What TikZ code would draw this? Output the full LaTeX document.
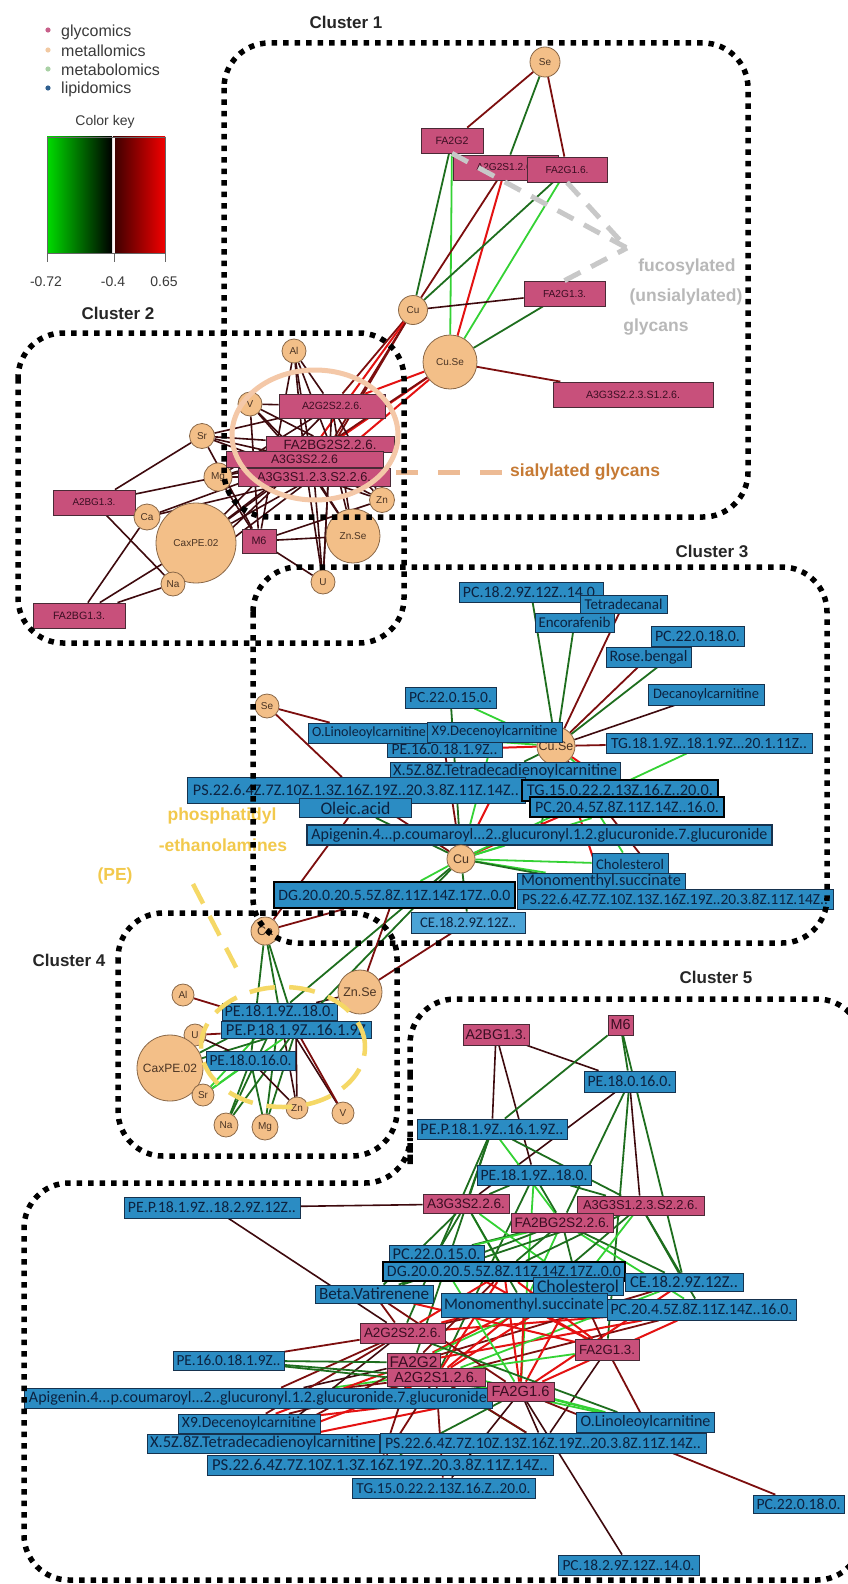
\documentclass[tikz,border=0pt]{standalone}
\usepackage{fontspec}
\usepackage{graphicx}
\setmainfont{Liberation Sans}
\newfontfamily\califont{Carlito}
\usetikzlibrary{shapes.geometric}

\definecolor{glycofill}{HTML}{C8507B}
\definecolor{glycodraw}{HTML}{4A2A36}
\definecolor{glycotext}{HTML}{3A0E22}
\definecolor{lipidfill}{HTML}{2B8CC3}
\definecolor{lipidlight}{HTML}{4BA3D6}
\definecolor{lipiddraw}{HTML}{16324E}
\definecolor{lipidtext}{HTML}{0C2240}
\definecolor{metalfill}{HTML}{F3BF88}
\definecolor{metaldraw}{HTML}{8A6848}
\definecolor{metaltext}{HTML}{4A3424}
\definecolor{edgered}{HTML}{E41212}
\definecolor{edgedkred}{HTML}{7C0E0E}
\definecolor{edgeblk}{HTML}{3E0A0E}
\definecolor{edgedkgreen}{HTML}{1E6E1E}
\definecolor{edgegreen}{HTML}{34D234}
\definecolor{fucogray}{HTML}{C8C8C8}
\definecolor{fucotextc}{HTML}{B8B8B8}
\definecolor{sialring}{HTML}{F4C8A8}
\definecolor{sialdash}{HTML}{EDBB95}
\definecolor{sialtextc}{HTML}{C67A34}
\definecolor{pegold}{HTML}{F2C94C}
\definecolor{pering}{HTML}{F5D866}
\definecolor{legglyco}{HTML}{C8608A}
\definecolor{legmetal}{HTML}{F2C9A2}
\definecolor{legmetab}{HTML}{A9D1A5}
\definecolor{leglipid}{HTML}{2F5F8F}
\definecolor{legtext}{HTML}{3A3A3A}
\definecolor{keygreen}{HTML}{00DC00}
\definecolor{keydkred}{HTML}{3A0000}
\definecolor{keyred}{HTML}{F20000}

\pgfdeclarelayer{bglayer}
\pgfdeclarelayer{edgelayer}
\pgfsetlayers{bglayer,edgelayer,main}

\newcommand{\fitto}[2]{\resizebox{#1pt}{!}{#2}}

\tikzset{
	glyco/.style = {draw = glycodraw, fill = glycofill, text = glycotext, line width = 0.8pt, inner sep = 0pt, font = \fontsize{10}{10}\selectfont},
	lipid/.style = {draw = lipiddraw, fill = lipidfill, text = lipidtext, line width = 0.8pt, inner sep = 0pt, font = \califont\fontsize{12}{12}\selectfont},
	lipidthick/.style = {lipid, draw = black, line width = 2.2pt},
	metal/.style = {circle, draw = metaldraw, fill = metalfill, line width = 0.8pt, inner sep = 0pt, text = metaltext, font = \fontsize{10}{10}\selectfont},
	metalbig/.style = {metal, font = \fontsize{12.5}{12.5}\selectfont},
	clusterline/.style = {line width = 5.5pt, dash pattern = on 5.5pt off 6pt, rounded corners = 45pt},
	clustertitle/.style = {font = \bfseries\fontsize{17}{17}\selectfont, text = black!85},
	legendtext/.style = {font = \fontsize{16}{16}\selectfont, text = legtext, anchor = west, inner sep = 0pt},
	keytext/.style = {font = \fontsize{14}{14}\selectfont, text = legtext, inner sep = 0pt},
	fucotext/.style = {font = \bfseries\fontsize{17.5}{17.5}\selectfont, text = fucotextc, inner sep = 0pt},
	petext/.style = {font = \bfseries\fontsize{17.5}{17.5}\selectfont, text = pegold, inner sep = 0pt},
	eR/.style = {line width = 2pt, color = edgered},
	eDR/.style = {line width = 1.8pt, color = edgedkred},
	eK/.style = {line width = 1.6pt, color = edgeblk},
	eDG/.style = {line width = 1.8pt, color = edgedkgreen},
	eG/.style = {line width = 1.8pt, color = edgegreen}
}

\begin{document}
\begin{tikzpicture}[x = 1pt, y = -1pt]
	\begin{pgfonlayer}{bglayer}
		\fill[white] (0,0) rectangle (848,1584);
	\end{pgfonlayer}
	\useasboundingbox (0,0) rectangle (848,1584);

	% legend and colour key
	\fill[legglyco] (48,30) circle[radius = 2.6pt];
	\fill[legmetal] (48,50) circle[radius = 2.6pt];
	\fill[legmetab] (48,69) circle[radius = 2.6pt];
	\fill[leglipid] (48,88) circle[radius = 2.6pt];
	\node[legendtext] (leggly) at (61,32) {glycomics};
	\node[legendtext] (legmet) at (61,51) {metallomics};
	\node[legendtext] (legmtb) at (61,70) {metabolomics};
	\node[legendtext] (leglip) at (61,89) {lipidomics};
	\node[keytext] (keytitle) at (105,122) {Color key};
	\shade[left color = keygreen, right color = black] (47,137) rectangle (112,253);
	\shade[left color = keydkred, right color = keyred] (113,137) rectangle (165,253);
	\draw[white!85!pink, line width = 1.8pt] (114,137) -- (114,253);
	\draw[black!60, line width = 0.6pt] (47,137) rectangle (165,253);
	\foreach \x in {47,114,165}
		\draw[black!60, line width = 0.8pt] (\x,253) -- (\x,262);
	\node[keytext] (keymin) at (46,282) {-0.72};
	\node[keytext] (keymid) at (113,282) {-0.4};
	\node[keytext] (keymax) at (164,282) {0.65};

	% cluster 1
	\node[metal, minimum size = 30pt] (se1) at (545,62) {Se};
	\node[glyco, minimum width = 62pt, minimum height = 25pt] (fa2g2a) at (452,140.5) {\fitto{33}{FA2G2}};
	\node[glyco, minimum width = 105pt, minimum height = 25pt] (a2g2s1a) at (505.5,167.5) {\fitto{58}{A2G2S1.2.6.}};
	\node[glyco, minimum width = 80pt, minimum height = 25pt] (fa2g16a) at (567,169.5) {\fitto{43}{FA2G1.6.}};
	\node[glyco, minimum width = 81pt, minimum height = 25pt] (fa2g13a) at (564.5,293.5) {\fitto{43}{FA2G1.3.}};
	\node[metal, minimum size = 29pt] (cu1) at (413,310) {Cu};
	\node[metal, minimum size = 54pt] (cuse1) at (450,362) {Cu.Se};
	\node[glyco, minimum width = 160pt, minimum height = 25pt] (a3g3s1a) at (633,394.5) {\fitto{94}{A3G3S2.2.3.S1.2.6.}};

	% cluster 2
	\node[glyco, minimum width = 82pt, minimum height = 25pt] (a2bg2) at (94,502.5) {\fitto{43}{A2BG1.3.}};
	\node[glyco, minimum width = 92pt, minimum height = 25pt] (fa2bg13) at (79,615.5) {\fitto{52}{FA2BG1.3.}};
	\node[metal, minimum size = 24pt] (al2) at (294,351) {Al};
	\node[metal, minimum size = 24pt] (v2) at (250,404) {V};
	\node[metal, minimum size = 25pt] (sr2) at (202,436) {Sr};
	\node[metal, minimum size = 28pt] (mg2) at (218,477) {Mg};
	\node[metal, minimum size = 80pt] (cax2) at (196,543) {CaxPE.02};
	\node[metal, minimum size = 26pt] (ca2) at (147,517) {Ca};
	\node[metal, minimum size = 24pt] (na2) at (173,584) {Na};
	\node[metal, minimum size = 54pt] (znse2) at (353,536) {Zn.Se};
	\node[metal, minimum size = 25pt] (zn2) at (382,500) {Zn};
	\node[metal, minimum size = 24pt] (u2) at (323,582) {U};
	\node[glyco, minimum width = 34pt, minimum height = 24pt] (m62) at (259,541) {\fitto{15}{M6}};
	\node[glyco, minimum width = 106pt, minimum height = 24pt] (a2g2s22) at (332,406) {\fitto{60}{A2G2S2.2.6.}};
	\node[glyco, minimum width = 128pt, minimum height = 16pt] (fa2bg2) at (330,444.5) {\fitto{93}{FA2BG2S2.2.6.}};
	\node[glyco, minimum width = 157pt, minimum height = 16pt] (a3g3s22) at (304.5,459.5) {\fitto{67}{A3G3S2.2.6}};
	\node[glyco, minimum width = 152pt, minimum height = 18pt] (a3g3s12) at (314,477) {\fitto{114}{A3G3S1.2.3.S2.2.6.}};

	% cluster 3
	\node[lipid, minimum width = 144pt, minimum height = 20pt] (pc18c) at (531,592) {\fitto{136}{PC.18.2.9Z.12Z..14.0.}};
	\node[lipid, minimum width = 87pt, minimum height = 18pt] (tetra) at (623.5,604) {\fitto{78}{Tetradecanal}};
	\node[lipid, minimum width = 79pt, minimum height = 19pt] (encor) at (574.5,622.5) {\fitto{72}{Encorafenib}};
	\node[lipid, minimum width = 93pt, minimum height = 20pt] (pc2218c) at (697.5,636) {\fitto{85}{PC.22.0.18.0.}};
	\node[lipid, minimum width = 85pt, minimum height = 20pt] (rose) at (648.5,657) {\fitto{78}{Rose.bengal}};
	\node[lipid, minimum width = 116pt, minimum height = 21pt] (decan) at (706,694.5) {\fitto{106}{Decanoylcarnitine}};
	\node[lipid, minimum width = 91pt, minimum height = 21pt] (pc2215c) at (450.5,697.5) {\fitto{83}{PC.22.0.15.0.}};
	\node[metal, minimum size = 24pt] (se3) at (267,706) {Se};
	\node[metalbig, minimum size = 38pt] (cusec) at (556,746) {Cu.Se};
	\node[lipid, minimum width = 115pt, minimum height = 15pt] (pe16c) at (444.5,749.5) {\fitto{106}{PE.16.0.18.1.9Z..}};
	\node[lipid, minimum width = 122pt, minimum height = 20pt] (olinc) at (369,733) {\fitto{114}{O.Linoleoylcarnitine}};
	\node[lipid, minimum width = 135pt, minimum height = 20pt] (x9c) at (494.5,732) {\fitto{126}{X9.Decenoylcarnitine}};
	\node[lipid, minimum width = 206pt, minimum height = 20pt] (tg18c) at (709,743) {\fitto{196}{TG.18.1.9Z..18.1.9Z...20.1.11Z..}};
	\node[lipid, minimum width = 230pt, minimum height = 18pt] (x5zc) at (505,771) {\fitto{224}{X.5Z.8Z.Tetradecadienoylcarnitine}};
	\node[lipid, minimum width = 338pt, minimum height = 26pt] (ps1c) at (356,790.5) {\fitto{326}{PS.22.6.4Z.7Z.10Z.1.3Z.16Z.19Z..20.3.8Z.11Z.14Z..}};
	\node[lipidthick, minimum width = 196pt, minimum height = 21pt] (tg15c) at (620,790.5) {\fitto{186}{TG.15.0.22.2.13Z.16.Z..20.0.}};
	\node[lipidthick, minimum width = 194pt, minimum height = 20pt] (pc20c) at (627,807) {\fitto{184}{PC.20.4.5Z.8Z.11Z.14Z..16.0.}};
	\node[lipid, minimum width = 112pt, minimum height = 19pt] (oleic) at (355.5,808) {\fitto{70}{Oleic.acid}};
	\node[lipid, line width = 1.5pt, minimum width = 465pt, minimum height = 20pt] (apigc) at (539.5,835) {\fitto{456}{Apigenin.4...p.coumaroyl...2..glucuronyl.1.2.glucuronide.7.glucuronide}};
	\node[metalbig, minimum size = 28pt] (cuc) at (461,859) {Cu};
	\node[lipid, minimum width = 76pt, minimum height = 22pt] (cholc) at (630,864) {\fitto{68}{Cholesterol}};
	\node[lipid, minimum width = 168pt, minimum height = 17pt] (monoc) at (601,881.5) {\fitto{160}{Monomenthyl.succinate}};
	\node[lipid, minimum width = 316pt, minimum height = 20pt] (ps2c) at (675,899) {\fitto{306}{PS.22.6.4Z.7Z.10Z.13Z.16Z.19Z..20.3.8Z.11Z.14Z..}};
	\node[lipidthick, minimum width = 241pt, minimum height = 26pt] (dgc) at (394.5,895) {\fitto{232}{DG.20.0.20.5.5Z.8Z.11Z.14Z.17Z..0.0}};
	\node[lipid, fill = lipidlight, minimum width = 114pt, minimum height = 21pt] (cec) at (468,922.5) {\fitto{96}{CE.18.2.9Z.12Z..}};
	\node[metalbig, minimum size = 28pt] (ca4) at (265,931) {Ca};

	% cluster 4
	\node[metal, minimum size = 22pt] (u4) at (195,1035) {U};
	\node[metalbig, font = \fontsize{12}{12}\selectfont, minimum size = 66pt] (cax4) at (170,1068) {CaxPE.02};
	\node[metal, minimum size = 22pt] (al4) at (183,995) {Al};
	\node[metal, minimum size = 22pt] (sr4) at (203,1095) {Sr};
	\node[metal, minimum size = 24pt] (na4) at (226,1125) {Na};
	\node[metal, minimum size = 26pt] (mg4) at (265,1127) {Mg};
	\node[metal, minimum size = 22pt] (zn4) at (297,1108) {Zn};
	\node[metal, minimum size = 22pt] (v4) at (343,1113) {V};
	\node[metalbig, minimum size = 44pt] (znse4) at (360,992) {Zn.Se};
	\node[lipid, minimum width = 115pt, minimum height = 17pt] (pe4a) at (279.5,1011.5) {\fitto{110}{PE.18.1.9Z..18.0.}};
	\node[lipid, minimum width = 150pt, minimum height = 17pt] (pe4b) at (296,1029.5) {\fitto{140}{PE.P.18.1.9Z..16.1.9Z}};
	\node[lipid, minimum width = 89pt, minimum height = 19pt] (pe4c) at (250.5,1060.5) {\fitto{82}{PE.18.0.16.0.}};

	% cluster 5
	\node[lipid, minimum width = 91pt, minimum height = 21pt] (pe18016e) at (629.5,1081.5) {\fitto{84}{PE.18.0.16.0.}};
	\node[glyco, minimum width = 66pt, minimum height = 21pt] (a2bg5) at (496,1034.5) {\fitto{61}{A2BG1.3.}};
	\node[glyco, minimum width = 25pt, minimum height = 20pt] (m65) at (620.5,1025) {\fitto{20}{M6}};
	\node[lipid, minimum width = 150pt, minimum height = 20pt] (pep5) at (492,1129) {\fitto{143}{PE.P.18.1.9Z..16.1.9Z..}};
	\node[lipid, minimum width = 114pt, minimum height = 20pt] (pe181e) at (534,1175) {\fitto{107}{PE.18.1.9Z..18.0.}};
	\node[glyco, minimum width = 86pt, minimum height = 19pt] (a3g3s25) at (466,1204) {\fitto{78}{A3G3S2.2.6.}};
	\node[glyco, minimum width = 127pt, minimum height = 19pt] (a3g3s15) at (640.5,1205.5) {\fitto{115}{A3G3S1.2.3.S2.2.6.}};
	\node[glyco, minimum width = 102pt, minimum height = 19pt] (fa2bg5) at (562,1222.5) {\fitto{95}{FA2BG2S2.2.6.}};
	\node[lipid, minimum width = 176pt, minimum height = 21pt] (pep182e) at (212,1207.5) {\fitto{168}{PE.P.18.1.9Z..18.2.9Z.12Z..}};
	\node[lipid, minimum width = 95pt, minimum height = 17pt] (pc2215e) at (436.5,1254) {\fitto{88}{PC.22.0.15.0.}};
	\node[lipidthick, minimum width = 242pt, minimum height = 19pt] (dg5) at (504,1271.5) {\fitto{234}{DG.20.0.20.5.5Z.8Z.11Z.14Z.17Z..0.0}};
	\node[lipid, minimum width = 118pt, minimum height = 18pt] (ce5) at (684,1282) {\fitto{108}{CE.18.2.9Z.12Z..}};
	\node[lipid, minimum width = 90pt, minimum height = 18pt] (chol5) at (578,1286) {\fitto{82}{Cholesterol}};
	\node[lipid, minimum width = 118pt, minimum height = 18pt] (beta5) at (374,1294) {\fitto{110}{Beta.Vatirenene}};
	\node[lipid, minimum width = 166pt, minimum height = 24pt] (mono5) at (524,1305) {\fitto{160}{Monomenthyl.succinate}};
	\node[lipid, minimum width = 189pt, minimum height = 21pt] (pc20e) at (701.5,1309.5) {\fitto{182}{PC.20.4.5Z.8Z.11Z.14Z..16.0.}};
	\node[glyco, minimum width = 85pt, minimum height = 20pt] (a2g2s25) at (402.5,1333) {\fitto{77}{A2G2S2.2.6.}};
	\node[glyco, minimum width = 64pt, minimum height = 21pt] (fa2g13e) at (607,1349.5) {\fitto{56}{FA2G1.3.}};
	\node[lipid, minimum width = 111pt, minimum height = 19pt] (pe16e) at (228.5,1360.5) {\fitto{104}{PE.16.0.18.1.9Z..}};
	\node[lipid, minimum width = 468pt, minimum height = 20pt] (apig5) at (258,1398) {\fitto{458}{Apigenin.4...p.coumaroyl...2..glucuronyl.1.2.glucuronide.7.glucuronide}};
	\node[glyco, minimum width = 53pt, minimum height = 19pt] (fa2g2e) at (413.5,1362.5) {\fitto{48}{FA2G2}};
	\node[glyco, minimum width = 98pt, minimum height = 18pt] (a2g2s15) at (436,1377) {\fitto{84}{A2G2S1.2.6.}};
	\node[glyco, minimum width = 67pt, minimum height = 19pt] (fa2g16e) at (520.5,1391.5) {\fitto{58}{FA2G1.6}};
	\node[lipid, minimum width = 138pt, minimum height = 20pt] (olin5) at (645.5,1422.5) {\fitto{130}{O.Linoleoylcarnitine}};
	\node[lipid, minimum width = 142pt, minimum height = 19pt] (x9e) at (249,1423.5) {\fitto{134}{X9.Decenoylcarnitine}};
	\node[lipid, minimum width = 232pt, minimum height = 19pt] (x5ze) at (263,1443.5) {\fitto{226}{X.5Z.8Z.Tetradecadienoylcarnitine}};
	\node[lipid, minimum width = 326pt, minimum height = 20pt] (ps1e) at (543,1443) {\fitto{316}{PS.22.6.4Z.7Z.10Z.13Z.16Z.19Z..20.3.8Z.11Z.14Z..}};
	\node[lipid, minimum width = 346pt, minimum height = 20pt] (ps2e) at (380,1465) {\fitto{336}{PS.22.6.4Z.7Z.10Z.1.3Z.16Z.19Z..20.3.8Z.11Z.14Z..}};
	\node[lipid, minimum width = 183pt, minimum height = 20pt] (tg15e) at (443.5,1488) {\fitto{174}{TG.15.0.22.2.13Z.16.Z..20.0.}};
	\node[lipid, minimum width = 91pt, minimum height = 18pt] (pc2218e) at (798.5,1504) {\fitto{84}{PC.22.0.18.0.}};
	\node[lipid, minimum width = 141pt, minimum height = 20pt] (pc18e) at (628.5,1565) {\fitto{132}{PC.18.2.9Z.12Z..14.0.}};

	\begin{pgfonlayer}{edgelayer}
		% cluster 1
		\foreach \a/\b/\c in {se1/fa2g2a/eDR,se1/a2g2s1a/eDG,se1/fa2g16a/eDR,fa2g2a/cu1/eDG,fa2g2a/cuse1/eG,a2g2s1a/cu1/eDR,a2g2s1a/cuse1/eR,fa2g16a/cu1/eDG,fa2g16a/cuse1/eG,fa2g13a/cu1/eK,fa2g13a/cuse1/eDG,cuse1/a3g3s1a/eDR}
			\draw[\c] (\a) -- (\b);
		\foreach \g/\c in {a2g2s22/eDR,fa2bg2/eDR,a3g3s22/eR,a3g3s12/eDR}
			\draw[\c] (cu1) -- (\g);
		\foreach \g/\c in {a2g2s22/eR,fa2bg2/eR,a3g3s22/eDR,a3g3s12/eR}
			\draw[\c] (cuse1) -- (\g);
		% cluster 2
		\foreach \m in {al2,v2,sr2,mg2,cax2,zn2,znse2,u2}
			\foreach \g in {a2g2s22,fa2bg2,a3g3s22,a3g3s12}
				\draw[eK] (\m) -- (\g);
		\foreach \a/\b in {sr2/a2bg2,mg2/a2bg2,na2/a2bg2,ca2/fa2bg13,cax2/fa2bg13,na2/fa2bg13,ca2/a3g3s22,ca2/a3g3s12,na2/a3g3s22,na2/a3g3s12,m62/al2,m62/v2,m62/mg2,m62/znse2,m62/u2,m62/zn2,m62/sr2}
			\draw[eK] (\a) -- (\b);
		% cluster 3
		\foreach \b/\c in {pc18c/eDG,tetra/eDR,encor/eDG,pc2218c/eDG,rose/eDR,decan/eK,tg18c/eDR,pc2215c/eG,pe16c/eR,olinc/eG,x9c/eG,x5zc/eDG,tg15c/eR,pc20c/eG,apigc/eDG,cholc/eG,monoc/eR,ps2c/eDR}
			\draw[\c] (cusec) -- (\b);
		\foreach \b/\c in {apigc/eG,cholc/eG,monoc/eG,ps2c/eDG,tg15c/eR,pc20c/eG,x5zc/eR,pe16c/eDR,pc2215c/eDG,oleic/eDG,ps1c/eDR,dgc/eG,cec/eDG,x9c/eG,tg18c/eG}
			\draw[\c] (cuc) -- (\b);
		\foreach \a/\b/\c in {se3/olinc/eDR,se3/ps1c/eDR,ca4/oleic/eDR,ca4/dgc/eDR}
			\draw[\c] (\a) -- (\b);
		% cluster 4
		\foreach \p in {pe4a,pe4b,pe4c}
			\foreach \m/\c in {ca4/eDG,cax4/eDG,sr4/eG,na4/eDG,mg4/eDG,zn4/eK}
				\draw[\c] (\p) -- (\m);
		\foreach \a/\b/\c in {al4/pe4b/eDR,u4/pe4b/eDR,u4/pe4c/eK,v4/pe4a/eK,v4/pe4b/eDR,znse4/pe4a/eK,pe4a/cuc/eDG,pe4b/cuc/eDG,znse4/cec/eDR,znse4/dgc/eDR}
			\draw[\c] (\a) -- (\b);
		% cluster 5
		\foreach \a/\b/\c in {a2bg5/pe18016e/eK,a2bg5/pep5/eK,a2bg5/pe181e/eK,m65/pep5/eDG,m65/pe18016e/eDG,m65/ce5/eDG,pe18016e/a3g3s25/eK,pe18016e/fa2bg5/eDG,pe18016e/a3g3s15/eK,pep5/a3g3s25/eDG,pep5/fa2bg5/eG,pep5/a3g3s15/eDG,pe181e/a3g3s25/eDG,pe181e/fa2bg5/eDG,pe181e/a3g3s15/eDG,pep5/a2g2s25/eDG,pep5/fa2g2e/eDG,pe181e/fa2g16e/eG,pe181e/a2g2s15/eDG,pe18016e/fa2g13e/eDG,pep182e/a3g3s25/eK,pep182e/a2g2s25/eK}
			\draw[\c] (\a) -- (\b);
		\foreach \a/\b/\c in {a3g3s25/pc2215e/eDG,a3g3s25/dg5/eG,a3g3s25/mono5/eDG,a3g3s25/beta5/eDG,a3g3s25/chol5/eG,fa2bg5/pc2215e/eDG,fa2bg5/dg5/eDG,fa2bg5/mono5/eG,fa2bg5/chol5/eDG,fa2bg5/ce5/eDG,fa2bg5/pc20e/eG,fa2bg5/beta5/eDG,a3g3s15/dg5/eDG,a3g3s15/mono5/eDG,a3g3s15/chol5/eG,a3g3s15/ce5/eDG,a3g3s15/pc20e/eDG,a3g3s15/pc2215e/eG,a3g3s15/beta5/eDG}
			\draw[\c] (\a) -- (\b);
		\foreach \a/\b/\c in {a2g2s25/dg5/eR,a2g2s25/mono5/eDR,a2g2s25/chol5/eR,a2g2s25/beta5/eDR,a2g2s25/pc20e/eR,fa2g2e/dg5/eDR,fa2g2e/mono5/eR,fa2g2e/chol5/eG,fa2g2e/pc20e/eR,fa2g2e/ce5/eDR,a2g2s15/mono5/eR,a2g2s15/chol5/eR,a2g2s15/pc20e/eDR,a2g2s15/ce5/eG,a2g2s15/dg5/eR,fa2g16e/dg5/eR,fa2g16e/mono5/eR,fa2g16e/chol5/eR,fa2g16e/pc20e/eR,fa2g16e/ce5/eR,fa2g16e/pc2215e/eG,fa2g16e/beta5/eDR,fa2g13e/mono5/eR,fa2g13e/chol5/eDR,fa2g13e/dg5/eR,fa2g13e/pc2215e/eR,fa2g13e/beta5/eR}
			\draw[\c] (\a) -- (\b);
		\foreach \a/\b/\c in {apig5/a2g2s25/eDR,apig5/fa2g2e/eK,apig5/a2g2s15/eDR,apig5/fa2g16e/eR,apig5/fa2g13e/eG,x9e/a2g2s25/eDR,x9e/fa2g2e/eR,x9e/a2g2s15/eDR,x9e/fa2g16e/eR,x5ze/a2g2s25/eK,x5ze/fa2g2e/eDR,x5ze/fa2g16e/eR,x5ze/a2g2s15/eR,ps1e/fa2g16e/eK,ps1e/fa2g13e/eK,ps1e/a2g2s15/eDG,ps1e/fa2g2e/eDR,ps2e/a2g2s15/eDR,ps2e/fa2g2e/eDR,ps2e/fa2g16e/eDG,tg15e/fa2g16e/eK,tg15e/a2g2s15/eDR,pe16e/a2g2s25/eDR,pe16e/fa2g2e/eDG,pe16e/a2g2s15/eDG,pe16e/fa2g16e/eDG,olin5/fa2g16e/eG,olin5/fa2g13e/eDR,olin5/a2g2s15/eG,olin5/fa2g2e/eG,olin5/a2g2s25/eDG,pc2218e/fa2g16e/eDR,pc18e/fa2g16e/eK}
			\draw[\c] (\a) -- (\b);
	\end{pgfonlayer}

	% annotations
	\coordinate (fucotip) at (627,248);
	\draw[fucogray, line width = 5pt, dash pattern = on 18pt off 12pt] (fa2g2a.south) -- (fucotip);
	\draw[fucogray, line width = 5pt, dash pattern = on 18pt off 12pt] (fa2g16a.south) -- (fucotip);
	\draw[fucogray, line width = 5pt, dash pattern = on 18pt off 12pt] (fa2g13a.north) -- (fucotip);
	\node[fucotext] (fuco1) at (687,267) {fucosylated};
	\node[fucotext] (fuco2) at (686,297) {(unsialylated)};
	\node[fucotext] (fuco3) at (656,327) {glycans};

	\node[ellipse, draw = sialring, line width = 5pt, minimum width = 166pt, minimum height = 130pt] (sialring) at (315,435) {};
	\coordinate (sialstart) at (396,472);
	\node[font = \bfseries\fontsize{17.5}{17.5}\selectfont, text = sialtextc, anchor = west, inner sep = 0pt] (sialtext) at (510,472) {sialylated glycans};
	\draw[sialdash, line width = 5pt, dash pattern = on 22pt off 20pt] (sialstart) -- (sialtext.west);

	\node[petext] (pename1) at (222,816) {phosphatidyl};
	\node[petext] (pename2) at (223,845) {-ethanolamines};
	\node[petext] (pename3) at (115,876) {(PE)};
	\node[ellipse, draw = pering, line width = 4.5pt, dash pattern = on 26pt off 14pt, minimum width = 164pt, minimum height = 120pt] (pering) at (283,1047) {};
	\coordinate (petail) at (193,884);
	\coordinate (pehead) at (240,975);
	\draw[pering, line width = 4.5pt, dash pattern = on 22pt off 14pt] (petail) -- (pehead);

	% clusters
	\draw[clusterline] (224,43) rectangle (748,517);
	\draw[clusterline] (18,333) rectangle (404,643);
	\draw[clusterline] (253,567) rectangle (827,943);
	\draw[clusterline] (118,913) rectangle (397,1156);
	\draw[clusterline] (410,1120) -- (410,999) -- (862,999) -- (862,1580) -- (24,1580) -- (24,1183) -- (410,1183) -- cycle;
	\node[clustertitle] (title1) at (346,22) {Cluster 1};
	\node[clustertitle] (title2) at (118,313) {Cluster 2};
	\node[clustertitle] (title3) at (712,551) {Cluster 3};
	\node[clustertitle] (title4) at (69,960) {Cluster 4};
	\node[clustertitle] (title5) at (716,977) {Cluster 5};
\end{tikzpicture}
\end{document}
